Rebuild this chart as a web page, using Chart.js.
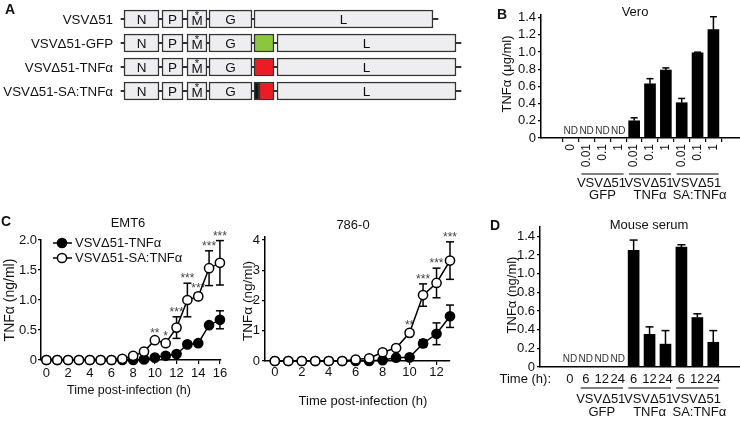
<!DOCTYPE html>
<html><head><meta charset="utf-8">
<script src="https://cdn.jsdelivr.net/npm/chart.js@4.4.0/dist/chart.umd.min.js"></script>
<style>
html,body{margin:0;padding:0;background:#fff;width:740px;height:422px;overflow:hidden;}
body{position:relative;}
canvas{position:absolute;}
</style></head><body>
<canvas id="cA" width="470" height="110" style="left:0;top:0"></canvas>
<canvas id="cB" width="270" height="210" style="left:470px;top:0"></canvas>
<canvas id="cC1" width="240" height="195" style="left:0;top:215px"></canvas>
<canvas id="cC2" width="240" height="200" style="left:240px;top:215px"></canvas>
<canvas id="cD" width="270" height="207" style="left:470px;top:215px"></canvas>
<script>
// ---------------- DATA ----------------
// Panel A: genome schematic (schematic genome units)
const constructs = ['VSVΔ51', 'VSVΔ51-GFP', 'VSVΔ51-TNFα', 'VSVΔ51-SA:TNFα'];
const geneN = [124, 159];
const geneP = [162, 183];
const geneM = [187, 207];
const geneG = [209, 252];
const geneL = [[254, 433], [277, 456], [277, 456], [277, 456]];
const backbone = [[121, 438], [121, 461], [121, 461], [121, 461]];
const insertSignal = [null, null, null, [254, 259]];
const insertGFP = [null, [254, 274], null, null];
const insertTNF = [null, null, [254, 274], [259, 274]];

// Panel B: Vero
const veroDoses = ['0', '0.01', '0.1', '1', '0.01', '0.1', '1', '0.01', '0.1', '1'];
const veroValues = [null, null, null, null, 0.20, 0.63, 0.79, 0.41, 0.99, 1.26];
const veroErrors = [null, null, null, null, 0.035, 0.06, 0.025, 0.05, 0.008, 0.15];
const veroYTicks = [0, 0.2, 0.4, 0.6, 0.8, 1.0, 1.2, 1.4];

// Groups (shared by B and D)
const groupTop = ['VSVΔ51', 'VSVΔ51', 'VSVΔ51'];
const groupBottom = ['GFP', 'TNFα', 'SA:TNFα'];
const groupFirst = [1, 4, 7];
const groupLast = [3, 6, 9];

// Panel C: EMT6
const emt6Hours = [0, 1, 2, 3, 4, 5, 6, 7, 8, 9, 10, 11, 12, 13, 14, 15, 16];
const emt6TNF = [0, 0, 0, 0, 0, 0, 0, 0, 0, 0.01, 0.04, 0.07, 0.10, 0.26, 0.28, 0.58, 0.67];
const emt6TNFErr = [0, 0, 0, 0, 0, 0, 0, 0, 0, 0, 0.01, 0.02, 0.02, 0.03, 0.03, 0.04, 0.15];
const emt6SA = [0, 0, 0, 0, 0, 0, 0, 0.02, 0.07, 0.14, 0.33, 0.28, 0.54, 1.00, 1.06, 1.53, 1.62];
const emt6SAErr = [0, 0, 0, 0, 0, 0, 0, 0, 0.01, 0.02, 0.04, 0.04, 0.18, 0.28, 0.05, 0.29, 0.37];
const emt6Stars = ['', '', '', '', '', '', '', '', '', '', '**', '*', '***', '***', '***', '***', '***'];
const emt6XTicks = [0, 2, 4, 6, 8, 10, 12, 14, 16];
const emt6YTicks = [0, 0.5, 1.0, 1.5, 2.0];

// Panel C: 786-0
const rccHours = [0, 1, 2, 3, 4, 5, 6, 7, 8, 9, 10, 11, 12, 13];
const rccTNF = [0, 0, 0, 0, 0, 0, 0, 0, 0.03, 0.11, 0.12, 0.58, 0.90, 1.48];
const rccTNFErr = [0, 0, 0, 0, 0, 0, 0, 0, 0, 0.02, 0.03, 0.12, 0.36, 0.37];
const rccSA = [0, 0, 0, 0, 0, 0, 0.05, 0.09, 0.29, 0.43, 0.93, 2.18, 2.58, 3.32];
const rccSAErr = [0, 0, 0, 0, 0, 0, 0.01, 0.02, 0.03, 0.04, 0.08, 0.37, 0.49, 0.62];
const rccStars = ['', '', '', '', '', '', '', '', '', '', '**', '***', '***', '***'];
const rccXTicks = [0, 2, 4, 6, 8, 10, 12];
const rccYTicks = [0, 1, 2, 3, 4];

// Panel D: Mouse serum
const serumTimes = ['0', '6', '12', '24', '6', '12', '24', '6', '12', '24'];
const serumValues = [null, null, null, null, 1.25, 0.35, 0.245, 1.285, 0.53, 0.265];
const serumErrors = [null, null, null, null, 0.11, 0.08, 0.145, 0.025, 0.04, 0.125];
const serumYTicks = [0, 0.2, 0.4, 0.6, 0.8, 1.0, 1.2, 1.4];

// ---------------- STYLE / HELPERS ----------------
const FONT = "'Liberation Sans', Arial, Helvetica, sans-serif";
Chart.defaults.font.family = FONT;
Chart.defaults.font.size = 13;
Chart.defaults.color = '#111';
Chart.defaults.animation = false;
Chart.defaults.responsive = false;
Chart.defaults.plugins.legend.display = false;
Chart.defaults.plugins.tooltip.enabled = false;

function txt(ctx, s, x, y, o = {}) {
  ctx.save();
  ctx.font = (o.bold ? 'bold ' : '') + (o.size || 13) + 'px ' + FONT;
  ctx.fillStyle = o.color || '#111';
  ctx.textAlign = o.align || 'center';
  ctx.textBaseline = o.baseline || 'middle';
  ctx.translate(x, y);
  if (o.rot) ctx.rotate(o.rot);
  ctx.fillText(s, 0, 0);
  ctx.restore();
}
function seg(ctx, x1, y1, x2, y2, w, c) {
  ctx.save();
  ctx.strokeStyle = c || '#000';
  ctx.lineWidth = w || 1.5;
  ctx.beginPath(); ctx.moveTo(x1, y1); ctx.lineTo(x2, y2); ctx.stroke();
  ctx.restore();
}
const fixedTicks = arr => (s => { s.ticks = arr.map(v => ({ value: v })); });
const axisGrid = (len) => ({ display: true, drawOnChartArea: false, drawTicks: true, tickLength: len, color: '#000', lineWidth: 1.2 });
const axisBorder = { color: '#000', width: 1.5 };
const fmt1 = v => (v === 0 ? '0' : Number(v).toFixed(1));

// ---------------- PANEL A ----------------
const boxStyle = { backgroundColor: '#eeeef0', borderColor: '#333', borderWidth: 1.5, borderSkipped: false, barThickness: 18, grouped: false, order: 1 };
new Chart(document.getElementById('cA'), {
  type: 'bar',
  data: {
    labels: constructs,
    datasets: [
      { label: '', data: backbone, backgroundColor: '#333', borderWidth: 0, barThickness: 1.4, grouped: false, order: 10 },
      Object.assign({ label: 'N', data: constructs.map(() => geneN) }, boxStyle),
      Object.assign({ label: 'P', data: constructs.map(() => geneP) }, boxStyle),
      Object.assign({ label: 'M', data: constructs.map(() => geneM) }, boxStyle),
      Object.assign({ label: 'G', data: constructs.map(() => geneG) }, boxStyle),
      Object.assign({ label: '', data: insertGFP }, boxStyle, { backgroundColor: '#8cc63f' }),
      Object.assign({ label: '', data: insertSignal }, boxStyle, { backgroundColor: '#111' }),
      Object.assign({ label: '', data: insertTNF }, boxStyle, { backgroundColor: '#ec1c24' }),
      Object.assign({ label: 'L', data: geneL }, boxStyle)
    ]
  },
  options: {
    indexAxis: 'y',
    layout: { padding: { top: 7, bottom: 7, left: 0, right: 0 } },
    scales: { x: { type: 'linear', min: 0, max: 470, display: false }, y: { display: false } }
  },
  plugins: [{
    id: 'annA',
    afterDraw(chart) {
      const ctx = chart.ctx;
      txt(ctx, 'A', 5, 10, { bold: true, size: 14, align: 'left' });
      const ys = chart.scales.y;
      constructs.forEach((c, i) => txt(ctx, c, 113, ys.getPixelForValue(i) + 1, { align: 'right', size: 13.3 }));
      chart.data.datasets.forEach((ds, di) => {
        if (!ds.label) return;
        chart.getDatasetMeta(di).data.forEach(el => {
          const cx = (el.x + el.base) / 2;
          if (ds.label === 'M') {
            txt(ctx, 'M', cx, el.y + 2, { size: 13.5 });
            txt(ctx, '*', cx, el.y - 3, { size: 11 });
          } else {
            txt(ctx, ds.label, cx, el.y + 1, { size: 13.5 });
          }
        });
      });
    }
  }]
});

// ---------------- BAR PANELS (B, D) ----------------
function groupsDraw(ctx, xs, oy, lineY, l1Y, l2Y) {
  groupTop.forEach((g, k) => {
    const a = xs.getPixelForValue(groupFirst[k] - 0.33), b = xs.getPixelForValue(groupLast[k] + 0.33);
    seg(ctx, a, lineY - oy, b, lineY - oy, 1.2);
    const mid = (xs.getPixelForValue(groupFirst[k]) + xs.getPixelForValue(groupLast[k])) / 2;
    txt(ctx, g, mid - 1, l1Y - oy, { size: 13 });
    txt(ctx, groupBottom[k], mid + (k === 2 ? 2 : 0), l2Y - oy, { size: 13 });
  });
}
function barsDraw(ctx, chart, values, errors, ndOffset, cap) {
  const xs = chart.scales.x, ys = chart.scales.y;
  values.forEach((v, i) => {
    const x = xs.getPixelForValue(i);
    if (v === null) {
      txt(ctx, 'ND', x, ys.getPixelForValue(0) - ndOffset, { size: 10, color: '#333' });
    } else {
      const y1 = ys.getPixelForValue(v), y2 = ys.getPixelForValue(v + errors[i]);
      seg(ctx, x, y1, x, y2, 1.5);
      seg(ctx, x - cap, y2, x + cap, y2, 1.5);
    }
  });
}

// Panel B
(function () {
  const OX = 470, OY = 0;
  new Chart(document.getElementById('cB'), {
    type: 'bar',
    data: { datasets: [{ data: veroValues.map((v, i) => ({ x: i, y: v })), backgroundColor: '#000', barThickness: 11 }] },
    options: {
      layout: { padding: { top: 15, right: 0, left: 0, bottom: 0 } },
      scales: {
        x: {
          type: 'linear', min: -1.25, max: 10.05,
          afterBuildTicks: fixedTicks(veroDoses.map((_, i) => i)),
          afterFit: s => { s.height = 72; },
          grid: axisGrid(4), border: axisBorder,
          ticks: { callback: v => veroDoses[v], minRotation: 90, maxRotation: 90, autoSkip: false, padding: 2, font: { size: 12 } }
        },
        y: {
          min: 0, max: 1.43,
          afterBuildTicks: fixedTicks(veroYTicks),
          afterFit: s => { s.width = 71; },
          grid: axisGrid(3), border: axisBorder,
          ticks: { callback: fmt1, autoSkip: false, padding: 2, font: { size: 13 } }
        }
      }
    },
    plugins: [{
      id: 'annB',
      afterDraw(chart) {
        const ctx = chart.ctx;
        txt(ctx, 'B', 502 - OX, 15 - OY, { bold: true, size: 14 });
        txt(ctx, 'Vero', 635 - OX, 12 - OY, { size: 13 });
        txt(ctx, 'TNFα (μg/ml)', 507 - OX, 74 - OY, { size: 13, rot: -Math.PI / 2 });
        barsDraw(ctx, chart, veroValues, veroErrors, 7, 3.5);
        groupsDraw(ctx, chart.scales.x, OY, 174, 183, 195);
      }
    }]
  });
})();

// Panel D
(function () {
  const OX = 470, OY = 215;
  new Chart(document.getElementById('cD'), {
    type: 'bar',
    data: { datasets: [{ data: serumValues.map((v, i) => ({ x: i, y: v })), backgroundColor: '#000', barThickness: 11 }] },
    options: {
      layout: { padding: { top: 12, right: 0, left: 0, bottom: 0 } },
      scales: {
        x: {
          type: 'linear', min: -1.25, max: 10.05,
          afterBuildTicks: fixedTicks(serumTimes.map((_, i) => i)),
          afterFit: s => { s.height = 55; },
          grid: { display: false, drawTicks: false, tickLength: 0 }, border: axisBorder,
          ticks: { callback: v => serumTimes[v], maxRotation: 0, autoSkip: false, padding: 5, font: { size: 13 } }
        },
        y: {
          min: 0, max: 1.5,
          afterBuildTicks: fixedTicks(serumYTicks),
          afterFit: s => { s.width = 70; },
          grid: axisGrid(3), border: axisBorder,
          ticks: { callback: fmt1, autoSkip: false, padding: 2, font: { size: 13 } }
        }
      }
    },
    plugins: [{
      id: 'annD',
      afterDraw(chart) {
        const ctx = chart.ctx;
        txt(ctx, 'D', 495 - OX, 226 - OY, { bold: true, size: 14 });
        txt(ctx, 'Mouse serum', 649 - OX, 225 - OY, { size: 13 });
        txt(ctx, 'TNFα (ng/ml)', 512 - OX, 295 - OY, { size: 13, rot: -Math.PI / 2 });
        txt(ctx, 'Time (h):', 551 - OX, 379 - OY, { size: 13, align: 'right' });
        barsDraw(ctx, chart, serumValues, serumErrors, 8, 4);
        groupsDraw(ctx, chart.scales.x, OY, 388, 399, 412);
      }
    }]
  });
})();

// ---------------- LINE PANELS (C) ----------------
function lineDatasets(hours, tnf, sa) {
  const base = { borderColor: '#000', pointBorderColor: '#000', pointRadius: 4.6, pointBorderWidth: 1.5, borderWidth: 1.5, tension: 0, clip: false };
  return [
    Object.assign({ label: 'VSVΔ51-TNFα', data: tnf.map((v, i) => ({ x: hours[i], y: v })), backgroundColor: '#000', pointBackgroundColor: '#000', order: 2 }, base),
    Object.assign({ label: 'VSVΔ51-SA:TNFα', data: sa.map((v, i) => ({ x: hours[i], y: v })), backgroundColor: '#fff', pointBackgroundColor: '#fff', order: 1 }, base)
  ];
}
function lineExtras(chart, hours, series, stars, starSeries) {
  const ctx = chart.ctx, xs = chart.scales.x, ys = chart.scales.y;
  stars.forEach((s, i) => {
    if (!s) return;
    const top = starSeries.v[i] + starSeries.e[i];
    const x = xs.getPixelForValue(hours[i]);
    const y = ys.getPixelForValue(top) - 7;
    txt(ctx, s, x, y + 6, { size: 12, color: '#444', baseline: 'alphabetic' });
  });
  series.forEach(sr => {
    sr.v.forEach((v, i) => {
      if (!sr.e[i]) return;
      const x = xs.getPixelForValue(hours[i]);
      const yt = ys.getPixelForValue(v + sr.e[i]), yb = ys.getPixelForValue(Math.max(0, v - sr.e[i]));
      seg(ctx, x, yt, x, yb, 1.5);
      seg(ctx, x - 4, yt, x + 4, yt, 1.5);
      seg(ctx, x - 4, yb, x + 4, yb, 1.5);
    });
  });
}
function legendMarker(ctx, x, y, fill) {
  seg(ctx, x - 9, y, x + 10, y, 1.5);
  ctx.save();
  ctx.beginPath(); ctx.arc(x, y, 4.6, 0, Math.PI * 2);
  ctx.fillStyle = fill; ctx.fill();
  ctx.lineWidth = 1.5; ctx.strokeStyle = '#000'; ctx.stroke();
  ctx.restore();
}

// EMT6
(function () {
  const OX = 0, OY = 215;
  new Chart(document.getElementById('cC1'), {
    type: 'line',
    data: { datasets: lineDatasets(emt6Hours, emt6TNF, emt6SA) },
    options: {
      layout: { padding: { top: 25, right: 19, left: 0, bottom: 0 } },
      scales: {
        x: {
          type: 'linear', min: -0.5, max: 16.1,
          afterBuildTicks: fixedTicks(emt6XTicks),
          afterFit: s => { s.height = 50; },
          grid: axisGrid(4), border: axisBorder,
          ticks: { maxRotation: 0, autoSkip: false, padding: 2, font: { size: 13 } }
        },
        y: {
          min: 0, max: 2.0,
          afterBuildTicks: fixedTicks(emt6YTicks),
          afterFit: s => { s.width = 41; },
          grid: axisGrid(3), border: axisBorder,
          ticks: { callback: fmt1, autoSkip: false, padding: 1, font: { size: 13 } }
        }
      }
    },
    plugins: [{
      id: 'annC1',
      beforeDatasetsDraw(chart) {
        lineExtras(chart, emt6Hours, [{ v: emt6TNF, e: emt6TNFErr }, { v: emt6SA, e: emt6SAErr }], emt6Stars, { v: emt6SA, e: emt6SAErr });
      },
      afterDraw(chart) {
        const ctx = chart.ctx;
        txt(ctx, 'C', 6 - OX, 222 - OY, { bold: true, size: 14 });
        txt(ctx, 'EMT6', 128 - OX, 223 - OY, { size: 13 });
        txt(ctx, 'TNFα (ng/ml)', 10 - OX, 300 - OY, { size: 14, rot: -Math.PI / 2 });
        txt(ctx, 'Time post-infection (h)', 129 - OX, 391 - OY, { size: 12.5 });
        legendMarker(ctx, 62 - OX, 243 - OY, '#000');
        legendMarker(ctx, 62 - OX, 258 - OY, '#fff');
        txt(ctx, chart.data.datasets[0].label, 75 - OX, 243 - OY, { size: 13, align: 'left' });
        txt(ctx, chart.data.datasets[1].label, 75 - OX, 258 - OY, { size: 13, align: 'left' });
      }
    }]
  });
})();

// 786-0
(function () {
  const OX = 240, OY = 215;
  new Chart(document.getElementById('cC2'), {
    type: 'line',
    data: { datasets: lineDatasets(rccHours, rccTNF, rccSA) },
    options: {
      layout: { padding: { top: 22, right: 30, left: 0, bottom: 0 } },
      scales: {
        x: {
          type: 'linear', min: -0.73, max: 13,
          afterBuildTicks: fixedTicks(rccXTicks),
          afterFit: s => { s.height = 54; },
          grid: axisGrid(4), border: axisBorder,
          ticks: { maxRotation: 0, autoSkip: false, padding: 0, font: { size: 13 } }
        },
        y: {
          min: 0, max: 4.1,
          afterBuildTicks: fixedTicks(rccYTicks),
          afterFit: s => { s.width = 25; },
          grid: axisGrid(3), border: axisBorder,
          ticks: { autoSkip: false, padding: 2, font: { size: 13 } }
        }
      }
    },
    plugins: [{
      id: 'annC2',
      beforeDatasetsDraw(chart) {
        lineExtras(chart, rccHours, [{ v: rccTNF, e: rccTNFErr }, { v: rccSA, e: rccSAErr }], rccStars, { v: rccSA, e: rccSAErr });
      },
      afterDraw(chart) {
        const ctx = chart.ctx;
        txt(ctx, '786-0', 353 - OX, 225 - OY, { size: 13 });
        txt(ctx, 'TNFα (ng/ml)', 248 - OX, 301 - OY, { size: 13.5, rot: -Math.PI / 2 });
        txt(ctx, 'Time post-infection (h)', 363 - OX, 401 - OY, { size: 13 });
      }
    }]
  });
})();
</script>
</body></html>
